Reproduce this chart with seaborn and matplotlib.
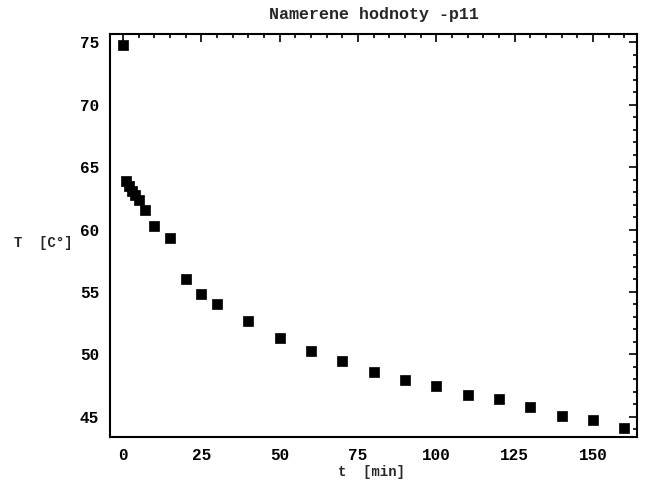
import matplotlib
matplotlib.use("Agg")
import matplotlib.pyplot as plt
import seaborn as sns
import pandas as pd
from matplotlib.ticker import MultipleLocator

# Data
t_min = [0, 1, 2, 3, 4, 5, 7, 10, 15, 20, 25, 30, 40, 50, 60, 70, 80, 90,
         100, 110, 120, 130, 140, 150, 160]
temp_c = [74.8, 63.9, 63.5, 63.1, 62.8, 62.4, 61.6, 60.3, 59.3, 56.0, 54.85,
          54.05, 52.7, 51.35, 50.3, 49.45, 48.6, 47.95, 47.45, 46.75, 46.45,
          45.75, 45.1, 44.75, 44.1]

title = "Namerene hodnoty -p11"
xlabel = "t  [min]"
ylabel = "T  [C\u00b0]"

df = pd.DataFrame({"t": t_min, "T": temp_c})

sns.set_style("white")
plt.rcParams["font.family"] = ["Liberation Mono", "DejaVu Sans Mono"]

fig = plt.figure(figsize=(6.48, 4.86), dpi=100)
ax = fig.add_axes([0.1698, 0.1014, 0.8132, 0.8286])

sns.scatterplot(data=df, x="t", y="T", ax=ax, marker="s", s=48,
                color="black", edgecolor="black", linewidth=0.5, legend=False)

ax.set_xlim(-4.1, 164)
ax.set_ylim(43.4, 75.67)

ax.xaxis.set_major_locator(MultipleLocator(25))
ax.xaxis.set_minor_locator(MultipleLocator(5))
ax.yaxis.set_major_locator(MultipleLocator(5))
ax.yaxis.set_minor_locator(MultipleLocator(1))

ax.tick_params(which="both", direction="in", top=True, right=True,
               colors="black", width=1.2)
ax.tick_params(which="major", length=6, labelsize=11.5, pad=8)
ax.tick_params(which="minor", length=3)
for lab in ax.get_xticklabels() + ax.get_yticklabels():
    lab.set_fontweight("bold")

for sp in ax.spines.values():
    sp.set_color("black")
    sp.set_linewidth(1.5)

ax.set_xlabel(xlabel, fontsize=10, fontweight="bold")
ax.xaxis.set_label_coords(0.497, -0.07)
ax.set_ylabel(ylabel, fontsize=10, fontweight="bold", rotation=0,
              ha="center", va="center")
ax.yaxis.set_label_coords(-0.127, 0.481)

fig.text(374 / 648, 1 - 15 / 486, title, ha="center", va="center",
         fontsize=12, fontweight="bold")

fig.savefig("out.png", dpi=100)
